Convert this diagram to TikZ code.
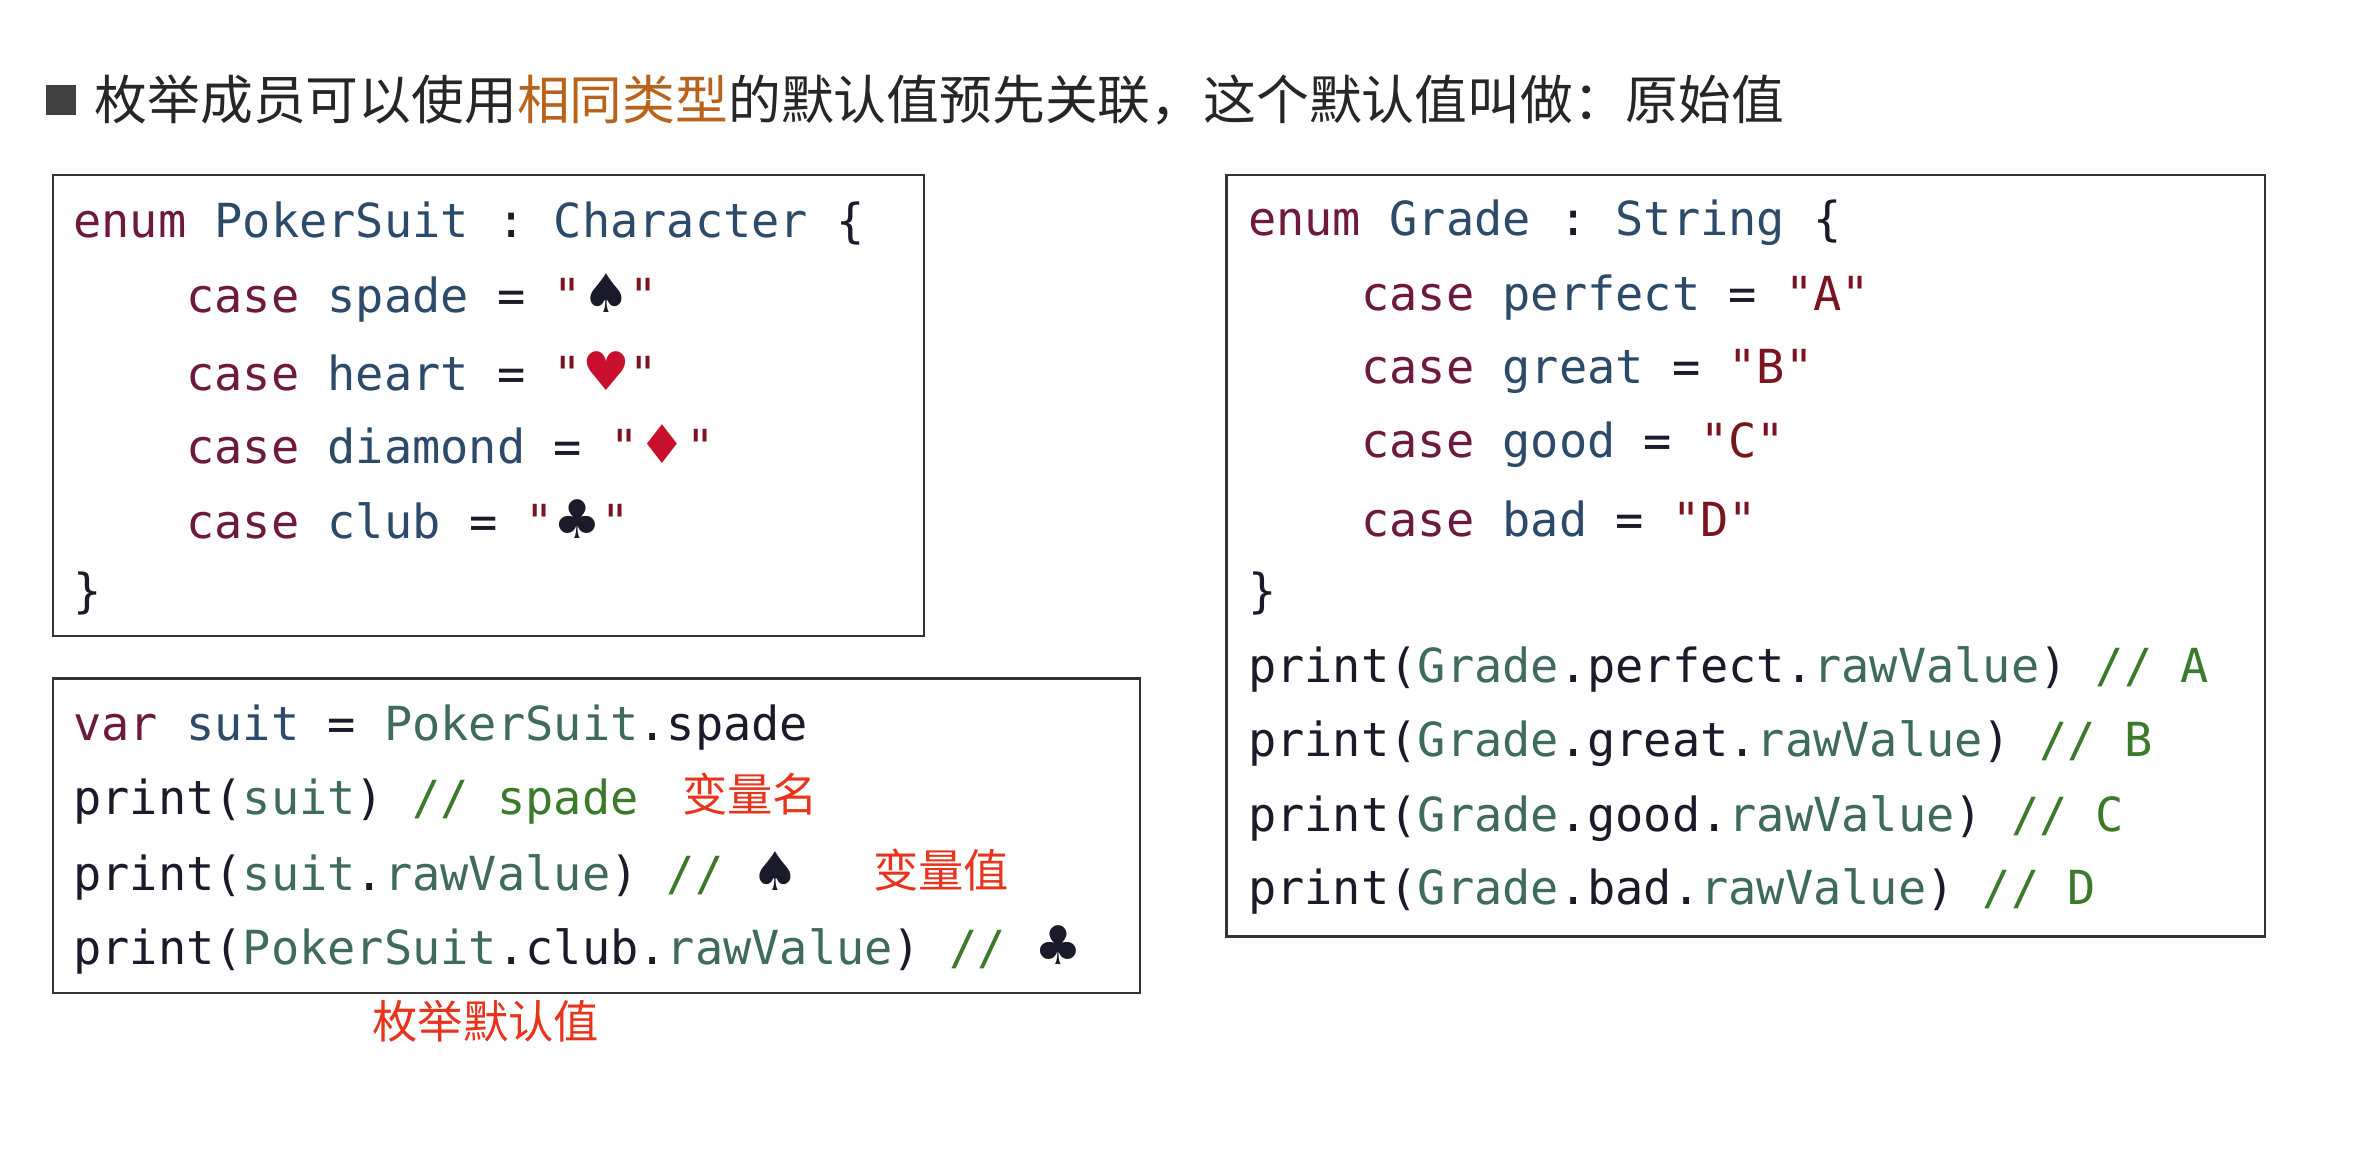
\documentclass[tikz,border=0pt]{standalone}
\usepackage{fontspec}
\setmonofont{DejaVu Sans Mono}
\newfontfamily\cjk{Noto Sans CJK SC}
\newfontfamily\sym{DejaVu Sans}
\definecolor{ckw}{HTML}{6E1A3E}
\definecolor{cid}{HTML}{2C4A6A}
\definecolor{cty}{HTML}{3E6B5E}
\definecolor{cst}{HTML}{7A1520}
\definecolor{ccm}{HTML}{3A7A2A}
\definecolor{cpl}{HTML}{1A1A2A}
\definecolor{cred}{HTML}{E8341C}
\definecolor{corg}{HTML}{B8621B}
\definecolor{csred}{HTML}{C8102E}
\newcommand\Kw[1]{\textcolor{ckw}{#1}}
\newcommand\Id[1]{\textcolor{cid}{#1}}
\newcommand\Ty[1]{\textcolor{cty}{#1}}
\newcommand\St[1]{\textcolor{cst}{#1}}
\newcommand\Cm[1]{\textcolor{ccm}{#1}}
\newcommand\Sy[1]{{\sym\fontsize{20}{20}\selectfont #1}}
\begin{document}
\begin{tikzpicture}[x=0.02cm,y=-0.02cm,
 code/.style={anchor=west,inner sep=0pt,text=cpl,font=\ttfamily\fontsize{17.6}{20}\selectfont},
 box/.style={draw=black!80,line width=0.8pt},
 note/.style={anchor=west,inner sep=0pt,text=cred,font=\cjk\fontsize{17}{20}\selectfont}]
\useasboundingbox[fill=white] (0,0) rectangle (1568,772);
\fill[black!75] (30,56) rectangle (50,76);
\node[anchor=west,inner sep=0pt,font=\cjk\fontsize{19.8}{24}\selectfont,text=black!85] (title) at (62,66) {枚举成员可以使用\textcolor{corg}{相同类型}的默认值预先关联，这个默认值叫做：原始值};
\draw[box] (35,115) rectangle (609,419);
\draw[box] (35,447) rectangle (751,654);
\draw[box] (808,115) rectangle (1492,617);
% box 1
\node[code] (a1) at (48,147) {\Kw{enum} \Id{PokerSuit} : \Id{Character} \{};
\node[code] (a2) at (48,196) {\phantom{xxxx}\Kw{case} \Id{spade} = \St{"}\Sy{♠}\St{"}};
\node[code] (a3) at (48,245) {\phantom{xxxx}\Kw{case} \Id{heart} = \St{"}\Sy{\textcolor{csred}{♥}}\St{"}};
\node[code] (a4) at (48,293) {\phantom{xxxx}\Kw{case} \Id{diamond} = \St{"}\Sy{\textcolor{csred}{♦}}\St{"}};
\node[code] (a5) at (48,342) {\phantom{xxxx}\Kw{case} \Id{club} = \St{"}\Sy{♣}\St{"}};
\node[code] (a6) at (48,391) {\}};
% box 2
\node[code] (b1) at (48,479) {\Kw{var} \Id{suit} = \Ty{PokerSuit}.spade};
\node[code] (b2) at (48,528) {print(\Ty{suit}) \Cm{// spade}};
\node[code] (b3) at (48,577) {print(\Ty{suit}.\Ty{rawValue}) \Cm{//} \Sy{♠}};
\node[code] (b4) at (48,626) {print(\Ty{PokerSuit}.club.\Ty{rawValue}) \Cm{//} \Sy{♣}};
\node[note] (n1) at (449,523) {变量名};
\node[note] (n2) at (575,573) {变量值};
\node[note] (n3) at (245,673) {枚举默认值};
% box 3
\node[code] (c1) at (822,147) {\Kw{enum} \Id{Grade} : \Id{String} \{};
\node[code] (c2) at (822,196) {\phantom{xxxx}\Kw{case} \Id{perfect} = \St{"A"}};
\node[code] (c3) at (822,245) {\phantom{xxxx}\Kw{case} \Id{great} = \St{"B"}};
\node[code] (c4) at (822,293) {\phantom{xxxx}\Kw{case} \Id{good} = \St{"C"}};
\node[code] (c5) at (822,342) {\phantom{xxxx}\Kw{case} \Id{bad} = \St{"D"}};
\node[code] (c6) at (822,391) {\}};
\node[code] (c7) at (822,441) {print(\Ty{Grade}.perfect.\Ty{rawValue}) \Cm{// A}};
\node[code] (c8) at (822,490) {print(\Ty{Grade}.great.\Ty{rawValue}) \Cm{// B}};
\node[code] (c9) at (822,539) {print(\Ty{Grade}.good.\Ty{rawValue}) \Cm{// C}};
\node[code] (c10) at (822,587) {print(\Ty{Grade}.bad.\Ty{rawValue}) \Cm{// D}};
\end{tikzpicture}
\end{document}
